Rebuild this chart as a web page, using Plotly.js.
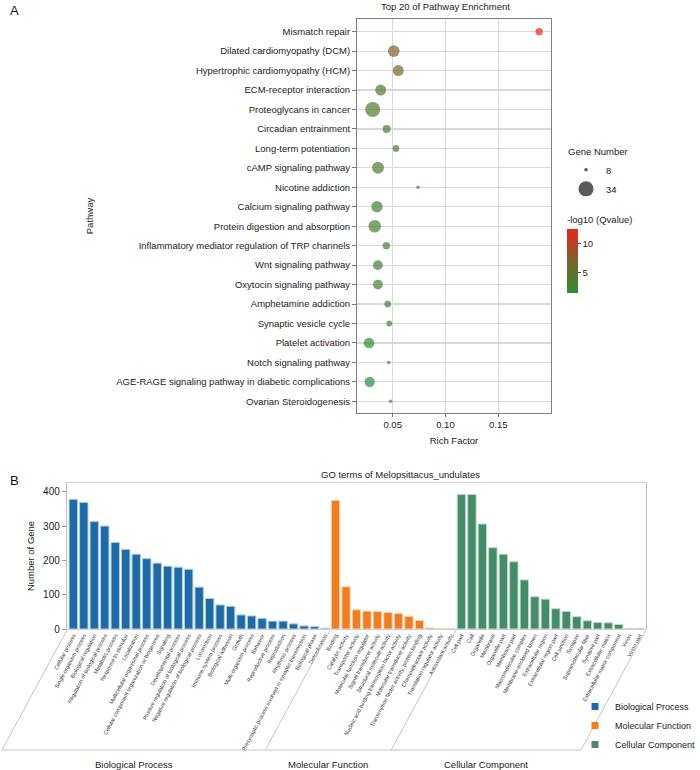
<!DOCTYPE html>
<html><head><meta charset="utf-8">
<script src="https://cdn.plot.ly/plotly-3.0.1.min.js"></script>
<style>html,body{margin:0;padding:0;background:#fff;}#chart{width:700px;height:770px;}</style>
</head><body><div id="chart"></div>
<script>
// ---------- Panel A data ----------
const pathways = ["Mismatch repair","Dilated cardiomyopathy (DCM)","Hypertrophic cardiomyopathy (HCM)","ECM-receptor interaction","Proteoglycans in cancer","Circadian entrainment","Long-term potentiation","cAMP signaling pathway","Nicotine addiction","Calcium signaling pathway","Protein digestion and absorption","Inflammatory mediator regulation of TRP channels","Wnt signaling pathway","Oxytocin signaling pathway","Amphetamine addiction","Synaptic vesicle cycle","Platelet activation","Notch signaling pathway","AGE-RAGE signaling pathway in diabetic complications","Ovarian Steroidogenesis"];
const richFactor = [0.1888,0.0510,0.0553,0.0386,0.0311,0.0443,0.0531,0.0361,0.0740,0.0351,0.0330,0.0440,0.0360,0.0360,0.0453,0.0468,0.0276,0.0462,0.0282,0.0481];
const geneNumber = [11,21,19,19,34,12,10,22,8,20,24,11,16,16,10,9,18,8,17,8];
const negLog10Q = [12.5,7.0,6.4,4.1,4.0,3.6,3.6,3.8,2.8,3.5,3.7,3.3,3.2,3.0,2.8,2.6,1.7,2.4,1.5,2.2];
const sizeBreaks = [8,34];

// ---------- Panel B data ----------
const bpTerms = ["Cellular process","Single-organism process","Biological regulation","Regulation of biological process","Metabolic process","Response to stimulus","Localization","Multicellular organismal process","Cellular component organization or biogenesis","Signaling","Developmental process","Positive regulation of biological process","Negative regulation of biological process","Locomotion","Immune system process","Biological adhesion","Growth","Multi-organism process","Behavior","Reproductive process","Reproduction","Rhythmic process","Presynaptic process involved in synaptic transmission","Biological phase","Detoxification"];
const bpCounts = [378,369,313,300,252,232,218,205,192,183,180,174,122,89,70,66,41,38,31,23,23,15,9,7,2];
const mfTerms = ["Binding","Catalytic activity","Transporter activity","Molecular function regulator","Signal transducer activity","Structural molecule activity","Nucleic acid binding transcription factor activity","Molecular transducer activity","Transcription factor activity, protein binding","Chemoattractant activity","Translation regulator activity","Antioxidant activity"];
const mfCounts = [375,123,56,52,51,48,45,37,25,3,1,1];
const ccTerms = ["Cell part","Cell","Organelle","Membrane","Organelle part","Membrane part","Macromolecular complex","Membrane-enclosed lumen","Extracellular region","Extracellular region part","Cell junction","Synapse","Supramolecular fiber","Synapse part","Extracellular matrix","Extracellular matrix component","Virion","Virion part"];
const ccCounts = [392,392,306,237,218,196,143,94,87,59,51,36,24,19,18,13,1,1];
const groupNames = ["Biological Process","Molecular Function","Cellular Component"];

// ---------- helpers / styles ----------
const W = 700, H = 770;
const FONT = "Liberation Sans, Arial, Helvetica, sans-serif";
const px = x => x / W, py = y => 1 - y / H;
const gMin = Math.min(...geneNumber), gMax = Math.max(...geneNumber);
const sizeOf = n => 3.5 + 11.5 * Math.sqrt((n - gMin) / (gMax - gMin));
const groupColors = ["#1f6aa5", "#ef7d22", "#478a69"];
const groupEdges = ["#a9cbe8", "#fbd2ae", "#b9dac9"];
const groupTerms = [bpTerms, mfTerms, ccTerms];
const groupCounts = [bpCounts, mfCounts, ccCounts];
const allTerms = [].concat(bpTerms, mfTerms, ccTerms);

const traces = [];
// Panel A bubbles
traces.push({
  type: "scatter", mode: "markers", xaxis: "x", yaxis: "y",
  x: richFactor, y: pathways, showlegend: false,
  marker: {
    size: geneNumber.map(sizeOf), sizemode: "diameter",
    color: negLog10Q, colorscale: [[0, "#2f8c39"], [0.5, "#7b632a"], [1, "#e8261d"]],
    line: { width: 0 },
    colorbar: {
      x: px(567), xanchor: "left", y: py(293), yanchor: "bottom",
      len: 80, lenmode: "pixels", thickness: 11, outlinewidth: 0,
      xpad: 0, ypad: 0, tickvals: [5, 10], ticks: "outside", ticklen: 3,
      tickcolor: "#444", tickfont: { size: 9.5, family: FONT, color: "#222" },
      title: { text: "-log10 (Qvalue)", side: "top", font: { size: 9.5, family: FONT, color: "#222" } }
    }
  }
});
// size legend entries
sizeBreaks.forEach(b => traces.push({
  type: "scatter", mode: "markers", xaxis: "x", yaxis: "y", x: [null], y: [null],
  name: String(b), legend: "legend", showlegend: true,
  marker: { size: sizeOf(b), color: "#5a5a5a" }
}));
// Panel B bars
groupNames.forEach((g, i) => {
  traces.push({
    type: "bar", xaxis: "x2", yaxis: "y2", x: groupTerms[i], y: groupCounts[i],
    name: g, showlegend: false, width: 0.8,
    marker: { color: groupColors[i], line: { color: groupEdges[i], width: 1 } }
  });
});
groupNames.forEach((g, i) => traces.push({
  type: "scatter", mode: "markers", xaxis: "x2", yaxis: "y2", x: [null], y: [null],
  name: g, legend: "legend2", showlegend: true,
  marker: { symbol: "square", size: 7, color: groupColors[i] }
}));

// geometry for panel B decorations
const bx0 = 67, bx1 = 646, xr = [-0.6, allTerms.length - 0.4];
const catPx = v => bx0 + (v - xr[0]) / (xr[1] - xr[0]) * (bx1 - bx0);
const bounds = [xr[0]];
let acc = 0;
groupTerms.forEach((t, i) => { acc += t.length; bounds.push(i < 2 ? acc - 0.5 : xr[1]); });
const yTop = 630, yBot = 750, slant = 65;
const shapes = [];
const bandLine = { color: "#c4c4c4", width: 1 };
bounds.forEach(b => {
  const xt = catPx(b);
  shapes.push({ type: "line", xref: "paper", yref: "paper", x0: px(xt), y0: py(yTop), x1: px(xt - slant), y1: py(yBot), line: bandLine });
});
shapes.push({ type: "line", xref: "paper", yref: "paper", x0: px(catPx(bounds[0]) - slant), y0: py(yBot), x1: px(catPx(bounds[3]) - slant), y1: py(yBot), line: bandLine });

const annotations = [
  { text: "A", x: px(8), y: py(10), xref: "paper", yref: "paper", xanchor: "left", yanchor: "middle", showarrow: false, font: { size: 13, family: FONT, color: "#111" } },
  { text: "B", x: px(8), y: py(480), xref: "paper", yref: "paper", xanchor: "left", yanchor: "middle", showarrow: false, font: { size: 13, family: FONT, color: "#111" } },
  { text: "Top 20 of Pathway Enrichment", x: px(445), y: py(6), xref: "paper", yref: "paper", xanchor: "center", yanchor: "middle", showarrow: false, font: { size: 9.5, family: FONT, color: "#222" } },
  { text: "GO terms of Melopsittacus_undulates", x: px(400), y: py(474), xref: "paper", yref: "paper", xanchor: "center", yanchor: "middle", showarrow: false, font: { size: 9.5, family: FONT, color: "#222" } }
];
groupNames.forEach((g, i) => {
  const cx = (catPx(bounds[i]) + catPx(bounds[i + 1])) / 2 - slant;
  annotations.push({ text: g, x: px(cx), y: py(764), xref: "paper", yref: "paper", xanchor: "center", yanchor: "middle", showarrow: false, font: { size: 9.5, family: FONT, color: "#222" } });
});

const layout = {
  width: W, height: H, margin: { l: 0, r: 0, t: 0, b: 0, autoexpand: false },
  paper_bgcolor: "#fff", plot_bgcolor: "#fff",
  font: { family: FONT, size: 9.5, color: "#222" },
  xaxis: {
    domain: [px(357), px(551)], anchor: "y", range: [0.0162, 0.2],
    tickvals: [0.05, 0.10, 0.15], tickformat: ".2f",
    showgrid: true, gridcolor: "#d9d9d9", gridwidth: 1.2, zeroline: false,
    ticks: "outside", ticklen: 3, tickcolor: "#777",
    showline: true, mirror: true, linecolor: "#7f7f7f", linewidth: 1,
    tickfont: { size: 9.5 }, title: { text: "Rich Factor", standoff: 7, font: { size: 9.5 } }
  },
  yaxis: {
    domain: [py(413), py(19)], anchor: "x", type: "category",
    categoryorder: "array", categoryarray: pathways, range: [19.6, -0.65],
    showgrid: true, gridcolor: "#d9d9d9", gridwidth: 1.2, zeroline: false,
    ticks: "outside", ticklen: 4, tickcolor: "#777",
    showline: true, mirror: true, linecolor: "#7f7f7f", linewidth: 1,
    tickfont: { size: 9.5 }, title: { text: "Pathway", standoff: 20, font: { size: 9.5 } }
  },
  xaxis2: {
    domain: [px(bx0), px(bx1)], anchor: "y2", type: "category",
    categoryorder: "array", categoryarray: allTerms, range: xr,
    tickangle: -62, tickfont: { size: 5.5, color: "#333" }, ticks: "",
    showgrid: false, zeroline: false, showline: true, mirror: true,
    linecolor: "#cfcfcf", linewidth: 1.2
  },
  yaxis2: {
    domain: [py(629), py(483)], anchor: "x2", range: [0, 425.5],
    tickvals: [0, 100, 200, 300, 400], ticks: "outside", ticklen: 4, tickcolor: "#999",
    showgrid: false, zeroline: false, showline: true, mirror: true,
    linecolor: "#bdbdbd", linewidth: 1.2, tickfont: { size: 10 },
    title: { text: "Number of Gene", standoff: 6, font: { size: 9.5 } }
  },
  barmode: "overlay",
  legend: {
    x: px(566), xanchor: "left", y: py(143), yanchor: "top",
    bgcolor: "rgba(0,0,0,0)", font: { size: 9.5 },
    title: { text: "Gene Number", font: { size: 9.5 } }, tracegroupgap: 0
  },
  legend2: {
    x: px(575), xanchor: "left", y: py(692), yanchor: "top",
    bgcolor: "rgba(0,0,0,0)", font: { size: 9 }
  },
  shapes: shapes, annotations: annotations
};

Plotly.newPlot("chart", traces, layout, { displayModeBar: false, staticPlot: true });
</script>
</body></html>
